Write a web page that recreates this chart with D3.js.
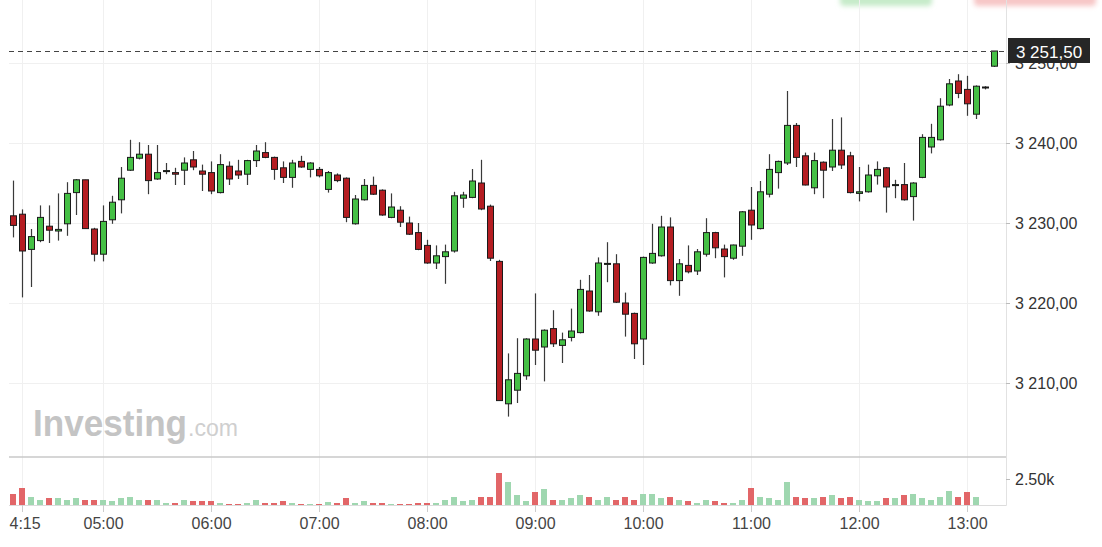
<!DOCTYPE html>
<html><head><meta charset="utf-8">
<script src="https://cdn.jsdelivr.net/npm/d3@7"></script>
<style>body{margin:0;background:#fff;} svg{display:block;font-family:"Liberation Sans",Arial,sans-serif;}</style>
</head><body><svg id="c" width="1102" height="547"></svg>
<script>
// ---- data (5-minute candles starting 04:10) ----
const startTime = "04:10";
const intervalMin = 5;
const open = [3230.9,3231.1,3226.7,3227.8,3229.6,3229.0,3229.9,3233.8,3235.4,3229.25,
3226.1,3230.4,3232.9,3236.6,3238.1,3238.6,3235.5,3236.5,3236.3,3236.6,
3237.9,3236.5,3236.3,3233.8,3237.1,3236.5,3236.1,3237.8,3238.8,3238.2,
3236.9,3235.7,3237.7,3236.7,3236.7,3234.2,3236.0,3235.6,3229.9,3232.9,
3234.7,3234.1,3230.7,3231.6,3230.0,3228.8,3227.2,3225.0,3225.8,3226.5,
3233.1,3233.2,3235.0,3232.1,3225.2,3207.4,3209.1,3210.9,3215.5,3214.5,
3216.8,3214.7,3215.7,3216.3,3221.5,3218.9,3224.9,3224.9,3220.0,3218.7,
3215.5,3225.0,3225.9,3229.5,3222.8,3224.7,3224.0,3226.1,3228.8,3226.75,
3225.6,3227.1,3231.6,3229.3,3233.6,3236.3,3237.5,3242.2,3238.4,3234.4,
3237.6,3237.0,3239.1,3238.4,3233.7,3233.9,3235.9,3236.9,3234.75,3234.8,
3233.3,3235.7,3239.5,3240.4,3244.75,3247.75,3246.7,3243.6,3247.0,3249.6];
const close = [3229.7,3226.5,3228.3,3230.7,3229.1,3229.2,3233.7,3235.4,3229.3,3226.1,
3230.2,3232.6,3235.6,3238.2,3238.6,3235.3,3236.3,3236.55,3236.1,3237.5,
3237.0,3236.1,3234.0,3237.3,3235.5,3236.0,3237.8,3239.0,3238.2,3236.7,
3235.7,3237.5,3237.0,3237.5,3235.9,3236.3,3235.3,3230.7,3233.0,3234.7,
3233.6,3231.0,3232.0,3230.1,3228.6,3226.7,3225.0,3225.9,3226.4,3233.4,
3233.5,3235.25,3231.75,3225.6,3207.8,3210.4,3211.2,3215.5,3214.1,3216.6,
3214.9,3215.4,3216.5,3221.7,3219.0,3225.0,3224.95,3220.1,3218.6,3214.9,
3225.7,3226.2,3229.5,3222.8,3224.9,3223.9,3226.4,3228.8,3226.9,3225.8,
3227.25,3231.4,3229.75,3233.9,3236.7,3237.7,3242.2,3238.2,3234.75,3237.8,
3236.6,3239.1,3237.25,3233.8,3233.9,3236.0,3236.7,3234.5,3234.8,3232.9,
3235.0,3240.7,3240.7,3244.6,3247.4,3246.2,3244.9,3247.1,3247.0,3251.5];
const high = [3235.3,3231.7,3229.25,3232.2,3232.2,3233.7,3235.1,3235.5,3235.4,3229.4,
3232.2,3233.4,3237.0,3240.4,3240.1,3239.75,3239.75,3237.5,3236.9,3238.2,
3239.0,3237.3,3237.7,3238.6,3237.7,3237.9,3237.9,3239.75,3240.1,3238.3,
3237.7,3237.9,3238.4,3237.6,3237.0,3236.5,3236.2,3235.7,3233.5,3235.5,
3235.8,3234.2,3233.7,3232.1,3230.8,3230.0,3227.9,3227.2,3227.3,3233.9,
3233.9,3236.75,3237.9,3232.3,3225.4,3213.7,3215.6,3215.6,3221.2,3216.7,
3219.1,3216.3,3219.3,3222.9,3223.5,3225.7,3227.6,3226.1,3221.3,3218.8,
3225.8,3229.9,3230.9,3230.7,3225.5,3227.2,3226.75,3230.6,3228.9,3227.3,
3227.3,3231.5,3234.5,3235.25,3238.6,3237.8,3246.5,3242.5,3238.8,3238.8,
3237.7,3243.0,3243.2,3238.9,3237.0,3237.3,3237.7,3237.0,3235.4,3237.5,
3235.1,3241.1,3242.4,3245.6,3248.0,3248.6,3248.4,3247.2,3247.1,3251.5];
const low = [3228.2,3220.7,3222.0,3227.6,3227.5,3227.8,3228.4,3231.0,3229.3,3225.2,
3225.2,3229.9,3231.2,3236.5,3237.95,3233.6,3235.4,3236.1,3234.75,3234.75,
3236.6,3234.0,3233.6,3233.7,3234.75,3235.5,3234.75,3237.0,3238.1,3235.4,
3235.0,3234.4,3236.9,3235.7,3235.7,3233.8,3235.1,3230.1,3229.8,3232.8,
3233.5,3230.9,3230.6,3229.5,3228.5,3226.6,3224.9,3224.25,3222.4,3226.3,
3231.9,3233.1,3231.6,3225.25,3207.8,3205.8,3207.5,3210.4,3212.25,3210.2,
3214.5,3212.5,3215.2,3216.2,3218.9,3218.4,3222.6,3220.0,3215.8,3213.0,
3212.25,3224.9,3225.8,3222.2,3220.9,3223.7,3223.5,3225.8,3225.6,3223.2,
3225.4,3225.9,3227.9,3229.2,3233.2,3234.3,3237.25,3237.0,3234.7,3233.6,
3233.1,3236.5,3236.75,3233.7,3232.7,3233.8,3234.8,3231.3,3233.1,3232.8,
3230.3,3235.6,3238.7,3240.3,3244.6,3245.6,3243.4,3243.0,3246.7,3249.5];
const volume = [1085,1660,800,480,640,640,480,640,480,480,
480,385,640,800,480,480,480,220,220,480,
385,385,385,220,100,100,220,480,220,220,
385,220,100,100,100,320,160,640,220,385,
220,220,70,100,100,220,220,220,480,800,
385,480,800,800,3100,2240,960,385,1220,1510,
480,480,640,960,800,480,800,480,800,480,
1085,1085,640,800,480,385,220,480,385,220,
220,480,1660,800,640,480,2240,800,640,640,
800,960,640,800,480,385,385,640,640,960,
1085,640,480,800,1370,800,1220,800,0,0];
const priceTicks = [3210, 3220, 3230, 3240, 3250];
const timeTickLabels = ["4:15","05:00","06:00","07:00","08:00","09:00","10:00","11:00","12:00","13:00"];
const volumeTicks = [2500];
const volumeTickLabels = ["2.50k"];
const lastPrice = 3251.5;

// ---- setup ----
const svg = d3.select("#c");
const W = 1102, H = 547;
const L = 9, R = 1006, PT = 0, PB = 457, VT = 458, VB = 505;
const parse = d3.timeParse("%H:%M");
const t0 = parse(startTime);
const times = open.map((_, i) => d3.timeMinute.offset(t0, i * intervalMin));
const timeTicks = timeTickLabels.map(s => parse(s.padStart(5, "0")));

const x = d3.scaleTime().domain([times[0], times[times.length - 1]]).range([13, 994]);
const y = d3.scaleLinear().domain([3210, 3250]).range([383, 63]);
const yv = d3.scaleLinear().domain([0, 2500]).range([VB, 479]);
const loc = d3.formatLocale({decimal: ",", thousands: " ", grouping: [3], currency: ["", ""]});
const pf = loc.format(",.2f");

svg.append("rect").attr("width", W).attr("height", H).attr("fill", "#fff");

// blurred top buttons (cut off)
const defs = svg.append("defs");
defs.append("filter").attr("id", "blur").attr("x", "-20%").attr("y", "-50%").attr("width", "140%").attr("height", "200%")
  .append("feGaussianBlur").attr("stdDeviation", 2.5);
svg.append("rect").attr("x", 840).attr("y", -20).attr("width", 92).attr("height", 26).attr("rx", 4)
  .attr("fill", "#c6ebc9").attr("filter", "url(#blur)");
svg.append("rect").attr("x", 974).attr("y", -20).attr("width", 122).attr("height", 26).attr("rx", 4)
  .attr("fill", "#f7c6c6").attr("filter", "url(#blur)");

// gridlines
const grid = svg.append("g").attr("shape-rendering", "crispEdges");
grid.selectAll(".hg").data(priceTicks).join("line")
  .attr("x1", L).attr("x2", R).attr("y1", d => Math.round(y(d)) + 0.5).attr("y2", d => Math.round(y(d)) + 0.5)
  .attr("stroke", "#f0f0f0");
grid.selectAll(".vg").data(timeTicks).join("line")
  .attr("x1", d => Math.round(x(d)) + 0.5).attr("x2", d => Math.round(x(d)) + 0.5)
  .attr("y1", PT).attr("y2", VB)
  .attr("stroke", "#f0f0f0");

// watermark
const wm = svg.append("text").attr("x", 33).attr("y", 436);
wm.append("tspan").text("Investing").attr("font-size", 36).attr("font-weight", "bold").attr("fill", "#c4c4c4")
  .attr("textLength", 154).attr("lengthAdjust", "spacingAndGlyphs");
svg.append("text").attr("x", 188).attr("y", 436).text(".com").attr("font-size", 23).attr("fill", "#cfcfcf")
  .attr("textLength", 50).attr("lengthAdjust", "spacingAndGlyphs");

// borders
svg.append("line").attr("x1", L).attr("x2", R).attr("y1", PB).attr("y2", PB).attr("stroke", "#c8c8c8").attr("stroke-width", 1.5);
svg.append("line").attr("x1", L).attr("x2", R + 0.5).attr("y1", VB + 0.5).attr("y2", VB + 0.5).attr("stroke", "#dcdcdc");
svg.append("line").attr("x1", R + 0.5).attr("x2", R + 0.5).attr("y1", 0).attr("y2", VB + 0.5).attr("stroke", "#e2e2e2");

// volume bars
const data = times.map((t, i) => ({t, o: open[i], c: close[i], h: high[i], l: low[i], v: volume[i]}));
svg.append("g").attr("shape-rendering", "crispEdges").selectAll("rect").data(data.filter(d => d.v > 0)).join("rect")
  .attr("x", d => Math.round(x(d.t)) - 3).attr("width", 6)
  .attr("y", d => yv(d.v)).attr("height", d => VB - yv(d.v))
  .attr("fill", d => d.c >= d.o ? "#9fd7b0" : "#e26668");

// candles
const cg = svg.append("g");
cg.selectAll("line").data(data).join("line")
  .attr("x1", d => Math.round(x(d.t)) + 0.5).attr("x2", d => Math.round(x(d.t)) + 0.5)
  .attr("y1", d => y(d.h)).attr("y2", d => y(d.l))
  .attr("stroke", "#3a3a3a").attr("stroke-width", 1.2);
cg.selectAll("rect").data(data).join("rect")
  .attr("x", d => Math.round(x(d.t)) - 2.5).attr("width", 6)
  .attr("y", d => y(Math.max(d.o, d.c)))
  .attr("height", d => Math.max(1, Math.abs(y(d.o) - y(d.c))))
  .attr("fill", d => d.c >= d.o ? "#45c045" : "#b51d22")
  .attr("stroke", "#1a1a1a").attr("stroke-width", 1);

// last price dashed line
svg.append("line").attr("x1", L).attr("x2", R + 2).attr("y1", Math.round(y(lastPrice)) + 0.5).attr("y2", Math.round(y(lastPrice)) + 0.5)
  .attr("stroke", "#444").attr("stroke-dasharray", "5,4");

// price axis
const ya = svg.append("g").attr("transform", `translate(${R},0)`)
  .call(d3.axisRight(y).tickValues(priceTicks).tickFormat(pf).tickSize(4).tickPadding(5));
ya.select(".domain").remove();
ya.selectAll(".tick line").attr("stroke", "#bbb");
ya.selectAll(".tick text").attr("font-size", 16).attr("fill", "#333").attr("font-family", "Liberation Sans, Arial, sans-serif");

// volume axis
const va = svg.append("g").attr("transform", `translate(${R},0)`)
  .call(d3.axisRight(yv).tickValues(volumeTicks).tickFormat((d, i) => volumeTickLabels[i]).tickSize(4).tickPadding(5));
va.select(".domain").remove();
va.selectAll(".tick line").attr("stroke", "#bbb");
va.selectAll(".tick text").attr("font-size", 16).attr("fill", "#333").attr("font-family", "Liberation Sans, Arial, sans-serif");

// last price label
svg.append("rect").attr("x", 1008).attr("y", 38).attr("width", 82).attr("height", 25).attr("fill", "#262626");
svg.append("text").attr("x", 1049).attr("y", 57.5).attr("text-anchor", "middle").attr("font-size", 17)
  .attr("fill", "#fff").text(pf(lastPrice));

// time axis
const xa = svg.append("g").attr("transform", `translate(0,${VB})`)
  .call(d3.axisBottom(x).tickValues(timeTicks).tickFormat((d, i) => timeTickLabels[i]).tickSize(7).tickPadding(6));
xa.select(".domain").remove();
xa.selectAll(".tick line").attr("stroke", "#ccc");
xa.selectAll(".tick text").attr("font-size", 16).attr("fill", "#444").attr("font-family", "Liberation Sans, Arial, sans-serif");
xa.select(".tick text").attr("text-anchor", "start").attr("x", L - x(timeTicks[0]));
</script></body></html>
